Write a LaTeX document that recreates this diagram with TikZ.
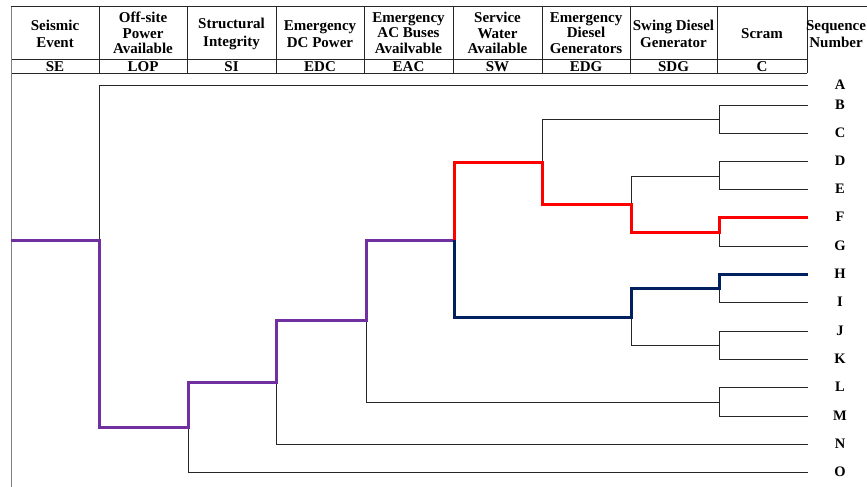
\documentclass[tikz,border=0pt]{standalone}
\usepackage{fontspec}
\setmainfont{Liberation Serif}
\usetikzlibrary{positioning}
\definecolor{seisPurple}{RGB}{112,48,160}
\definecolor{seisNavy}{RGB}{0,32,96}
\definecolor{seisRed}{RGB}{255,0,0}

\tikzset{
  head/.style={font=\bfseries\fontsize{15}{15.5}\selectfont, align=center, inner sep=0pt},
  abbr/.style={font=\bfseries\fontsize{15}{15}\selectfont, inner sep=0pt},
  seq/.style={font=\bfseries\fontsize{14.5}{14.5}\selectfont, inner sep=0pt},
  grid/.style={line width=1pt, black!85},
  branch/.style={line width=0.9pt, black!85},
  core/.style={line width=3pt, seisPurple},
  redpath/.style={line width=3pt, seisRed},
  navypath/.style={line width=3pt, seisNavy},
}

\begin{document}
\begin{tikzpicture}[x=1pt,y=-1pt]
    \useasboundingbox (0,0) rectangle (867,487);
    \clip (0,0) rectangle (867,487);

    % Table head
    \draw[grid] (11,7) -- (867,7);
    \draw[grid] (11,60) -- (807,60);
    \draw[grid] (11,73) -- (807,73);
    \draw[line width=1pt, black!50] (11,7) -- (11,487);
    \foreach \x in {99,187,276,364,453,542,630,717,807}
        \draw[grid] (\x,7) -- (\x,73);

    \node[head] (hSE)  at (55,34)    {Seismic\\[2pt]Event};
    \node[head] (hLOP) at (143,33)   {Off-site\\Power\\Available};
    \node[head] (hSI)  at (231.5,34) {Structural\\[2pt]Integrity};
    \node[head] (hEDC) at (320,34)   {Emergency\\[2pt]DC Power};
    \node[head] (hEAC) at (408.5,33) {Emergency\\AC Buses\\Availvable};
    \node[head] (hSW)  at (497.5,33) {Service\\Water\\Available};
    \node[head] (hEDG) at (586,33)   {Emergency\\Diesel\\Generators};
    \node[head] (hSDG) at (673.5,34) {Swing Diesel\\[2pt]Generator};
    \node[head] (hC)   at (762,34)   {Scram};
    \node[head] (hSeq) at (836,34)   {Sequence\\[2pt]Number};

    \foreach \n/\x in {SE/55,LOP/143,SI/231.5,EDC/320,EAC/408.5,SW/497.5,EDG/586,SDG/673.5,C/762}
        \node[abbr] (a\n) at (\x,66.5) {\n};

    % Sequence ends and labels
    \foreach \s/\y in {A/85,B/105,C/133,D/161,E/189,F/217,G/246,H/274,I/302,J/331,K/359,L/387,M/416,N/444,O/472} {
        \coordinate (e\s) at (808,\y);
        \node[seq] (l\s) at (840,\y) {\s};
    }

    % Branch points
    \coordinate (start) at (11,240);
    \coordinate (n1) at (99,240);
    \coordinate (n2) at (188,427);
    \coordinate (n3) at (276,382);
    \coordinate (n4) at (366,320);
    \coordinate (n5) at (454,240);
    \coordinate (n6) at (542,162);
    \coordinate (n7) at (631,204);
    \coordinate (n8) at (631,317);
    \coordinate (c1) at (719,119);
    \coordinate (c2) at (719,176);
    \coordinate (c3) at (719,232);
    \coordinate (c4) at (719,288);
    \coordinate (c5) at (719,345);
    \coordinate (c6) at (719,402);

    % Thin branches
    \draw[branch] (n1) |- (eA);
    \draw[branch] (n2) |- (eO);
    \draw[branch] (n3) |- (eN);
    \draw[branch] (n4) |- (c6);
    \draw[branch] (c6) |- (eL);
    \draw[branch] (c6) |- (eM);
    \draw[branch] (n6) |- (c1);
    \draw[branch] (c1) |- (eB);
    \draw[branch] (c1) |- (eC);
    \draw[branch] (n7) |- (c2);
    \draw[branch] (c2) |- (eD);
    \draw[branch] (c2) |- (eE);
    \draw[branch] (c3) |- (eG);
    \draw[branch] (c4) |- (eI);
    \draw[branch] (n8) |- (c5);
    \draw[branch] (c5) |- (eJ);
    \draw[branch] (c5) |- (eK);

    % Highlighted paths
    \draw[core] (start) -- (n1) |- (n2) |- (n3) |- (n4) |- (n5);
    \draw[redpath] (n5) |- (n6) |- (n7) |- (c3) |- (eF);
    \draw[navypath] (n5) |- (n8) |- (c4) |- (eH);
\end{tikzpicture}
\end{document}
